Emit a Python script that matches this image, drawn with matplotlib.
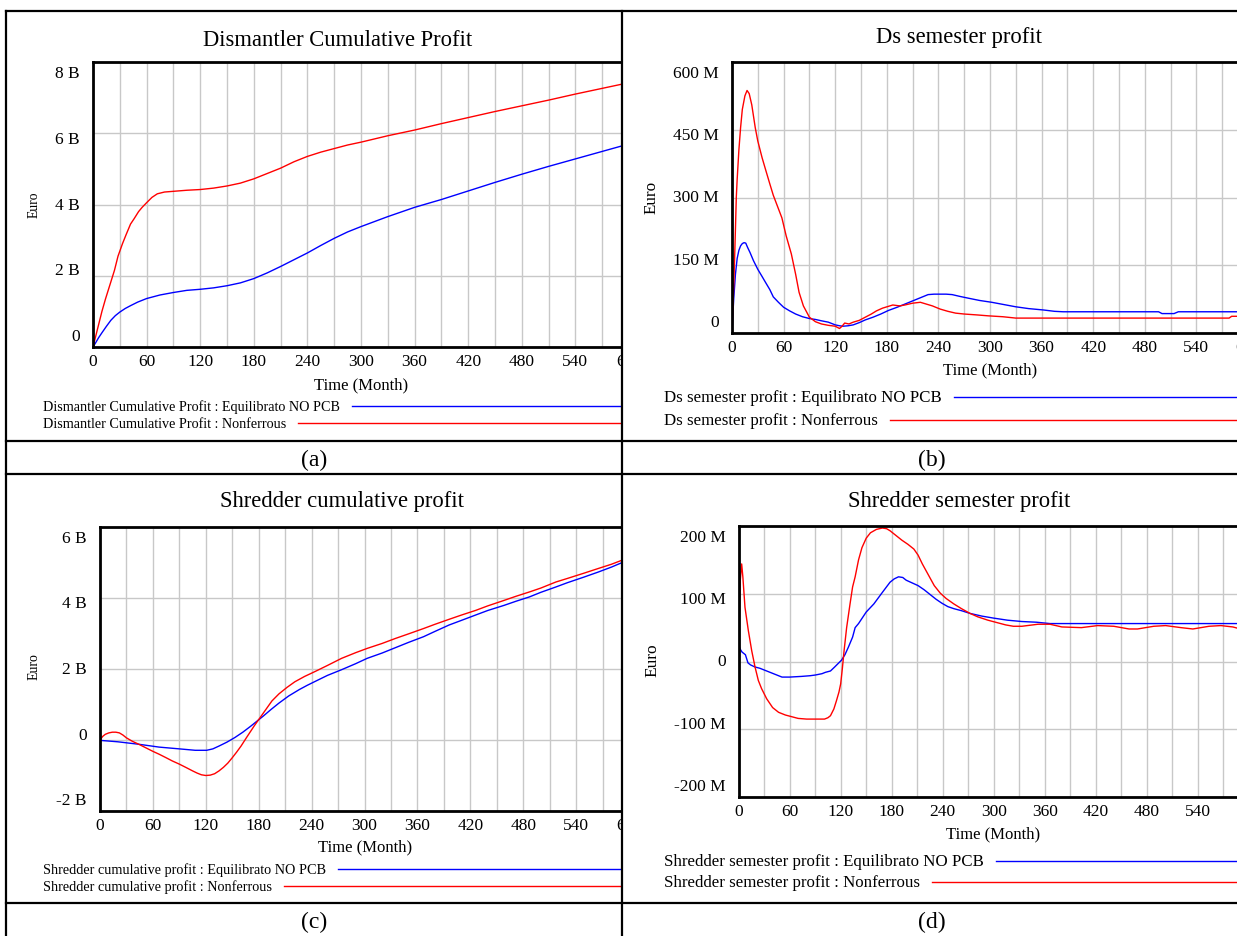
import matplotlib
matplotlib.use('Agg')
from matplotlib import pyplot as plt
from matplotlib.lines import Line2D
from matplotlib.patches import Rectangle
from matplotlib.ticker import MultipleLocator
from matplotlib.transforms import blended_transform_factory, ScaledTranslation

plt.rcParams['font.family'] = ['Liberation Serif', 'DejaVu Serif']

W, H = 1237, 936

# (a) Dismantler Cumulative Profit, billion euro
a_eq_t = [0, 3, 6, 10, 15, 20, 25, 30, 36, 42, 50, 60, 75, 90, 105, 120, 135, 150, 165, 180,
          195, 210, 225, 240, 255, 270, 285, 300, 330, 360, 390, 420, 450, 480, 510, 540, 570, 600]
a_eq_v = [0, 0.12, 0.25, 0.4, 0.58, 0.75, 0.88, 0.98, 1.08, 1.16, 1.26, 1.36, 1.46, 1.53, 1.59, 1.62, 1.66, 1.72, 1.8, 1.92,
          2.08, 2.26, 2.45, 2.64, 2.85, 3.05, 3.23, 3.38, 3.66, 3.92, 4.14, 4.38, 4.62, 4.85, 5.07, 5.28, 5.49, 5.7]
a_nf_t = [0, 3, 6, 10, 14, 19, 24, 28, 33, 37, 42, 46, 51, 55, 60, 66, 72, 80, 90, 105,
          120, 135, 150, 165, 180, 195, 210, 225, 240, 255, 270, 285, 300, 330, 360, 390, 420, 450, 480, 510,
          540, 570, 600]
a_nf_v = [0, 0.3, 0.6, 1.0, 1.35, 1.75, 2.15, 2.55, 2.9, 3.15, 3.45, 3.6, 3.8, 3.92, 4.05, 4.2, 4.3, 4.35, 4.37, 4.4,
          4.42, 4.46, 4.52, 4.6, 4.72, 4.87, 5.02, 5.2, 5.35, 5.47, 5.57, 5.67, 5.75, 5.93, 6.09, 6.27, 6.44, 6.61, 6.77, 6.93,
          7.1, 7.26, 7.42]

# (b) Ds semester profit, million euro
b_eq_t = [0, 1, 2, 4, 6, 8, 10, 12, 14, 16, 18, 21, 25, 30, 35, 39, 44, 48, 54, 60,
          67, 74, 82, 90, 97, 104, 112, 120, 125, 129, 135, 141, 148, 155, 164, 173, 182, 192, 201, 210,
          219, 228, 235, 242, 249, 256, 265, 275, 288, 302, 316, 330, 345, 362, 375, 385, 420, 480, 496, 500,
          514, 519, 540, 600]
b_eq_v = [0, 40, 75, 130, 165, 183, 193, 198, 200, 199, 190, 178, 160, 141, 125, 112, 96, 80, 68, 57,
          49, 42, 36, 32, 30, 27, 24, 18, 16, 15, 16, 18, 23, 29, 35, 42, 50, 57, 64, 71,
          78, 85, 86, 86, 86, 85, 81, 77, 72, 68, 63, 58, 54, 51, 48, 47, 47, 47, 47, 43,
          43, 47, 47, 47]
b_nf_t = [0, 1, 2, 3, 4, 5, 6, 8, 10, 12, 15, 17.5, 20, 23, 27, 30, 35, 39, 44, 48,
          53, 58, 63, 69, 74, 78, 83, 90, 97, 104, 112, 120, 125, 128, 131, 136, 141, 148, 155, 162,
          168, 175, 187, 195, 201, 210, 219, 226, 233, 242, 251, 260, 270, 285, 298, 315, 330, 360, 420, 480,
          540, 578, 581, 600]
b_nf_v = [0, 50, 105, 163, 230, 300, 340, 405, 455, 495, 525, 537, 530, 505, 455, 425, 388, 362, 330, 305,
          280, 255, 215, 175, 130, 90, 60, 35, 25, 20, 17, 15, 10, 15, 22, 20, 24, 28, 35, 42,
          49, 55, 62, 60, 62, 66, 68, 64, 60, 53, 48, 44, 42, 40, 38, 36, 33, 33, 33, 33,
          33, 33, 37, 37]

# (c) Shredder cumulative profit, billion euro
c_eq_t = [0, 20, 44, 67, 90, 108, 121, 128, 135, 144, 153, 162, 171, 178, 185, 194, 203, 214, 226, 235,
          244, 258, 274, 290, 303, 320, 335, 350, 367, 380, 396, 410, 426, 440, 458, 472, 487, 500, 517, 530,
          549, 565, 580, 600]
c_eq_v = [-0.01, -0.05, -0.12, -0.2, -0.25, -0.29, -0.29, -0.25, -0.17, -0.06, 0.07, 0.22, 0.39, 0.53, 0.67, 0.86, 1.04, 1.24, 1.42, 1.54,
          1.65, 1.82, 1.98, 2.15, 2.3, 2.45, 2.6, 2.75, 2.91, 3.06, 3.24, 3.37, 3.52, 3.65, 3.79, 3.91, 4.03, 4.16, 4.31, 4.43,
          4.59, 4.73, 4.87, 5.08]
c_nf_t = [0, 3, 6, 10, 14, 18, 22, 26, 30, 37, 44, 52, 60, 67, 75, 82, 90, 98, 105, 110,
          115, 120, 125, 130, 135, 140, 145, 150, 155, 160, 167, 175, 185, 195, 203, 212, 221, 232, 244, 258,
          274, 290, 303, 320, 335, 350, 367, 380, 396, 410, 426, 440, 458, 472, 487, 500, 517, 530, 549, 565,
          580, 600]
c_nf_v = [0, 0.1, 0.16, 0.2, 0.22, 0.22, 0.2, 0.14, 0.06, -0.04, -0.12, -0.22, -0.32, -0.4, -0.5, -0.59, -0.68, -0.78, -0.87, -0.93,
          -0.98, -1.0, -0.99, -0.95, -0.87, -0.77, -0.65, -0.5, -0.34, -0.17, 0.1, 0.4, 0.75, 1.1, 1.3, 1.48, 1.64, 1.79, 1.93, 2.1,
          2.3, 2.46, 2.58, 2.72, 2.86, 2.99, 3.14, 3.26, 3.4, 3.52, 3.65, 3.78, 3.93, 4.05, 4.17, 4.28, 4.45, 4.55, 4.7, 4.83,
          4.95, 5.14]

# (d) Shredder semester profit, million euro
d_eq_t = [0, 2, 4, 8, 11, 14, 19, 25, 31, 37, 43, 51, 60, 74, 84, 90, 98, 102, 108, 113,
          117, 121, 125, 129, 134, 137, 141, 150, 159, 169, 178, 183, 188, 193, 197, 204, 211, 218, 225, 232,
          239, 246, 253, 262, 272, 286, 300, 316, 333, 350, 366, 400, 450, 500, 550, 600]
d_eq_v = [25, 18, 14, 10, -2, -5, -8, -10, -13, -16, -19, -23, -23, -22, -21, -20, -18, -16, -14, -8,
          -3, 2, 10, 21, 36, 50, 56, 73, 85, 102, 117, 122, 125, 124, 120, 116, 112, 106, 99, 92,
          86, 81, 78, 75, 71, 67, 64, 61, 59, 58, 56, 56, 56, 56, 56, 56]
d_nf_t = [0, 1, 2, 3.6, 5, 7.5, 11.4, 15.4, 19.3, 23.2, 27, 33, 40, 47, 55, 61, 70, 80, 90, 101,
          105, 108, 112, 115, 118, 120, 122, 124, 127, 131, 134, 137, 141, 145, 150, 155, 162, 169, 174, 178,
          185, 192, 199, 206, 211, 216, 223, 230, 237, 244, 253, 262, 272, 281, 293, 305, 314, 323, 333, 352,
          366, 380, 403, 422, 441, 459, 469, 488, 502, 520, 534, 553, 567, 581, 593, 600]
d_nf_v = [26, 70, 120, 144, 125, 80, 46, 16, -8, -28, -40, -55, -68, -75, -79, -81, -84, -85, -85, -85,
          -83, -80, -70, -58, -45, -33, -10, 16, 50, 85, 110, 125, 150, 168, 182, 190, 195, 197, 196, 193,
          186, 179, 173, 166, 157, 144, 128, 112, 101, 93, 85, 78, 71, 66, 61, 57, 54, 52, 52, 55,
          55, 51, 50, 53, 52, 48, 48, 52, 53, 50, 48, 52, 53, 51, 47, 47]

x_ticks = list(range(0, 601, 60))
a_yticks = [0, 2, 4, 6, 8]
a_ylabels = ['0', '2 B', '4 B', '6 B', '8 B']
b_yticks = [0, 150, 300, 450, 600]
b_ylabels = ['0', '150 M', '300 M', '450 M', '600 M']
c_yticks = [-2, 0, 2, 4, 6]
c_ylabels = ['-2 B', '0', '2 B', '4 B', '6 B']
d_yticks = [-200, -100, 0, 100, 200]
d_ylabels = ['-200 M', '-100 M', '0', '100 M', '200 M']

titles = ['Dismantler Cumulative Profit', 'Ds semester profit',
          'Shredder cumulative profit', 'Shredder semester profit']
captions = ['(a)', '(b)', '(c)', '(d)']

fig = plt.figure(figsize=(W / 100, H / 100), dpi=100)


def fx(x):
    return x / W


def fy(y):
    return 1 - y / H


def panel(box, eq, nf, yticks, ylabels, title, title_xy, time_xy, euro_xy, euro_fs,
          leg_xy, leg_fs, leg_end, caption_xy, caption):
    l, t, r, b = box
    ax = fig.add_axes([fx(l), fy(b), fx(r - l), (b - t) / H])
    ax.plot(eq[0], eq[1], color='blue', lw=1.0)
    ax.plot(nf[0], nf[1], color='red', lw=1.0)
    ax.set_xlim(0, 600)
    ax.set_ylim(yticks[0], yticks[-1])
    ax.set_xticks(x_ticks)
    ax.xaxis.set_minor_locator(MultipleLocator(30))
    ax.set_yticks(yticks)
    ax.grid(True, which='both', axis='x', color='#c8c8c8', lw=1.0)
    ax.grid(True, which='major', axis='y', color='#c8c8c8', lw=1.0)
    ax.set_axisbelow(True)
    ax.tick_params(which='both', length=0, labelsize=12.5)
    ax.tick_params(axis='y', labelleft=False)
    ax.tick_params(axis='x', pad=5)
    for sp in ax.spines.values():
        sp.set_linewidth(2.0)

    # vensim squeezes the value labels inside the frame: top one sits lower, bottom one higher
    n = len(yticks)
    for i, (v, s) in enumerate(zip(yticks, ylabels)):
        shift = -10 + 22 * i / (n - 1)
        tr = blended_transform_factory(ax.transAxes, ax.transData) + \
            ScaledTranslation(-13 / 100, -shift / 100, fig.dpi_scale_trans)
        ax.text(0, v, s, transform=tr, fontsize=12.5, ha='right', va='center', clip_on=False)

    fig.text(fx(title_xy[0]), fy(title_xy[1]), title, fontsize=16.3, ha='center', va='center')
    fig.text(fx(time_xy[0]), fy(time_xy[1]), 'Time (Month)', fontsize=12, ha='center', va='center')
    fig.text(fx(euro_xy[0]), fy(euro_xy[1]), 'Euro', fontsize=euro_fs, rotation=90,
             ha='center', va='center')
    fig.text(fx(caption_xy[0]), fy(caption_xy[1]), caption, fontsize=17, ha='center', va='center')

    names = [title + ' : Equilibrato NO PCB', title + ' : Nonferrous']
    renderer = fig.canvas.get_renderer()
    for name, y, col in zip(names, leg_xy[1], ['blue', 'red']):
        txt = fig.text(fx(leg_xy[0]), fy(y), name, fontsize=leg_fs, ha='left', va='center')
        x1 = txt.get_window_extent(renderer).x1 + 12
        fig.add_artist(Line2D([x1 / W, fx(leg_end)], [fy(y - 1), fy(y - 1)], color=col, lw=1.0,
                              transform=fig.transFigure))
    return ax


panel((93, 62, 629, 347), (a_eq_t, a_eq_v), (a_nf_t, a_nf_v), a_yticks, a_ylabels,
      titles[0], (338, 40), (361, 385), (34, 205), 9.8, (43, (407, 424)), 10.2, 622, (314, 460), captions[0])
panel((732, 62, 1248, 333), (b_eq_t, b_eq_v), (b_nf_t, b_nf_v), b_yticks, b_ylabels,
      titles[1], (959, 38), (990, 370), (652, 197), 12.3, (664, (398, 421)), 12.2, 1237, (932, 460), captions[1])
panel((100, 527, 629, 811), (c_eq_t, c_eq_v), (c_nf_t, c_nf_v), c_yticks, c_ylabels,
      titles[2], (342, 501), (365, 847), (34, 667), 10.0, (43, (870, 887)), 10.3, 622, (314, 922), captions[2])
panel((738.6, 526, 1249, 797), (d_eq_t, d_eq_v), (d_nf_t, d_nf_v), d_yticks, d_ylabels,
      titles[3], (959, 501), (993, 834), (652, 660), 12.5, (664, (862, 883)), 12.2, 1237, (932, 922), captions[3])

# the left charts run past their table cell; hide the overflow
fig.add_artist(Rectangle((fx(623), 0), fx(644 - 623), 1, facecolor='white', edgecolor='none',
                         transform=fig.transFigure, zorder=50))

# table rules
rules = [((6, 1237), (11, 11)), ((6, 6), (11, 936)), ((622, 622), (11, 936)),
         ((6, 1237), (441, 441)), ((6, 1237), (474, 474)), ((6, 1237), (903, 903))]
for xs, ys in rules:
    fig.add_artist(Line2D([fx(v) for v in xs], [fy(v) for v in ys], color='black', lw=1.6,
                          transform=fig.transFigure, zorder=60))

fig.savefig('out.png', dpi=100)
